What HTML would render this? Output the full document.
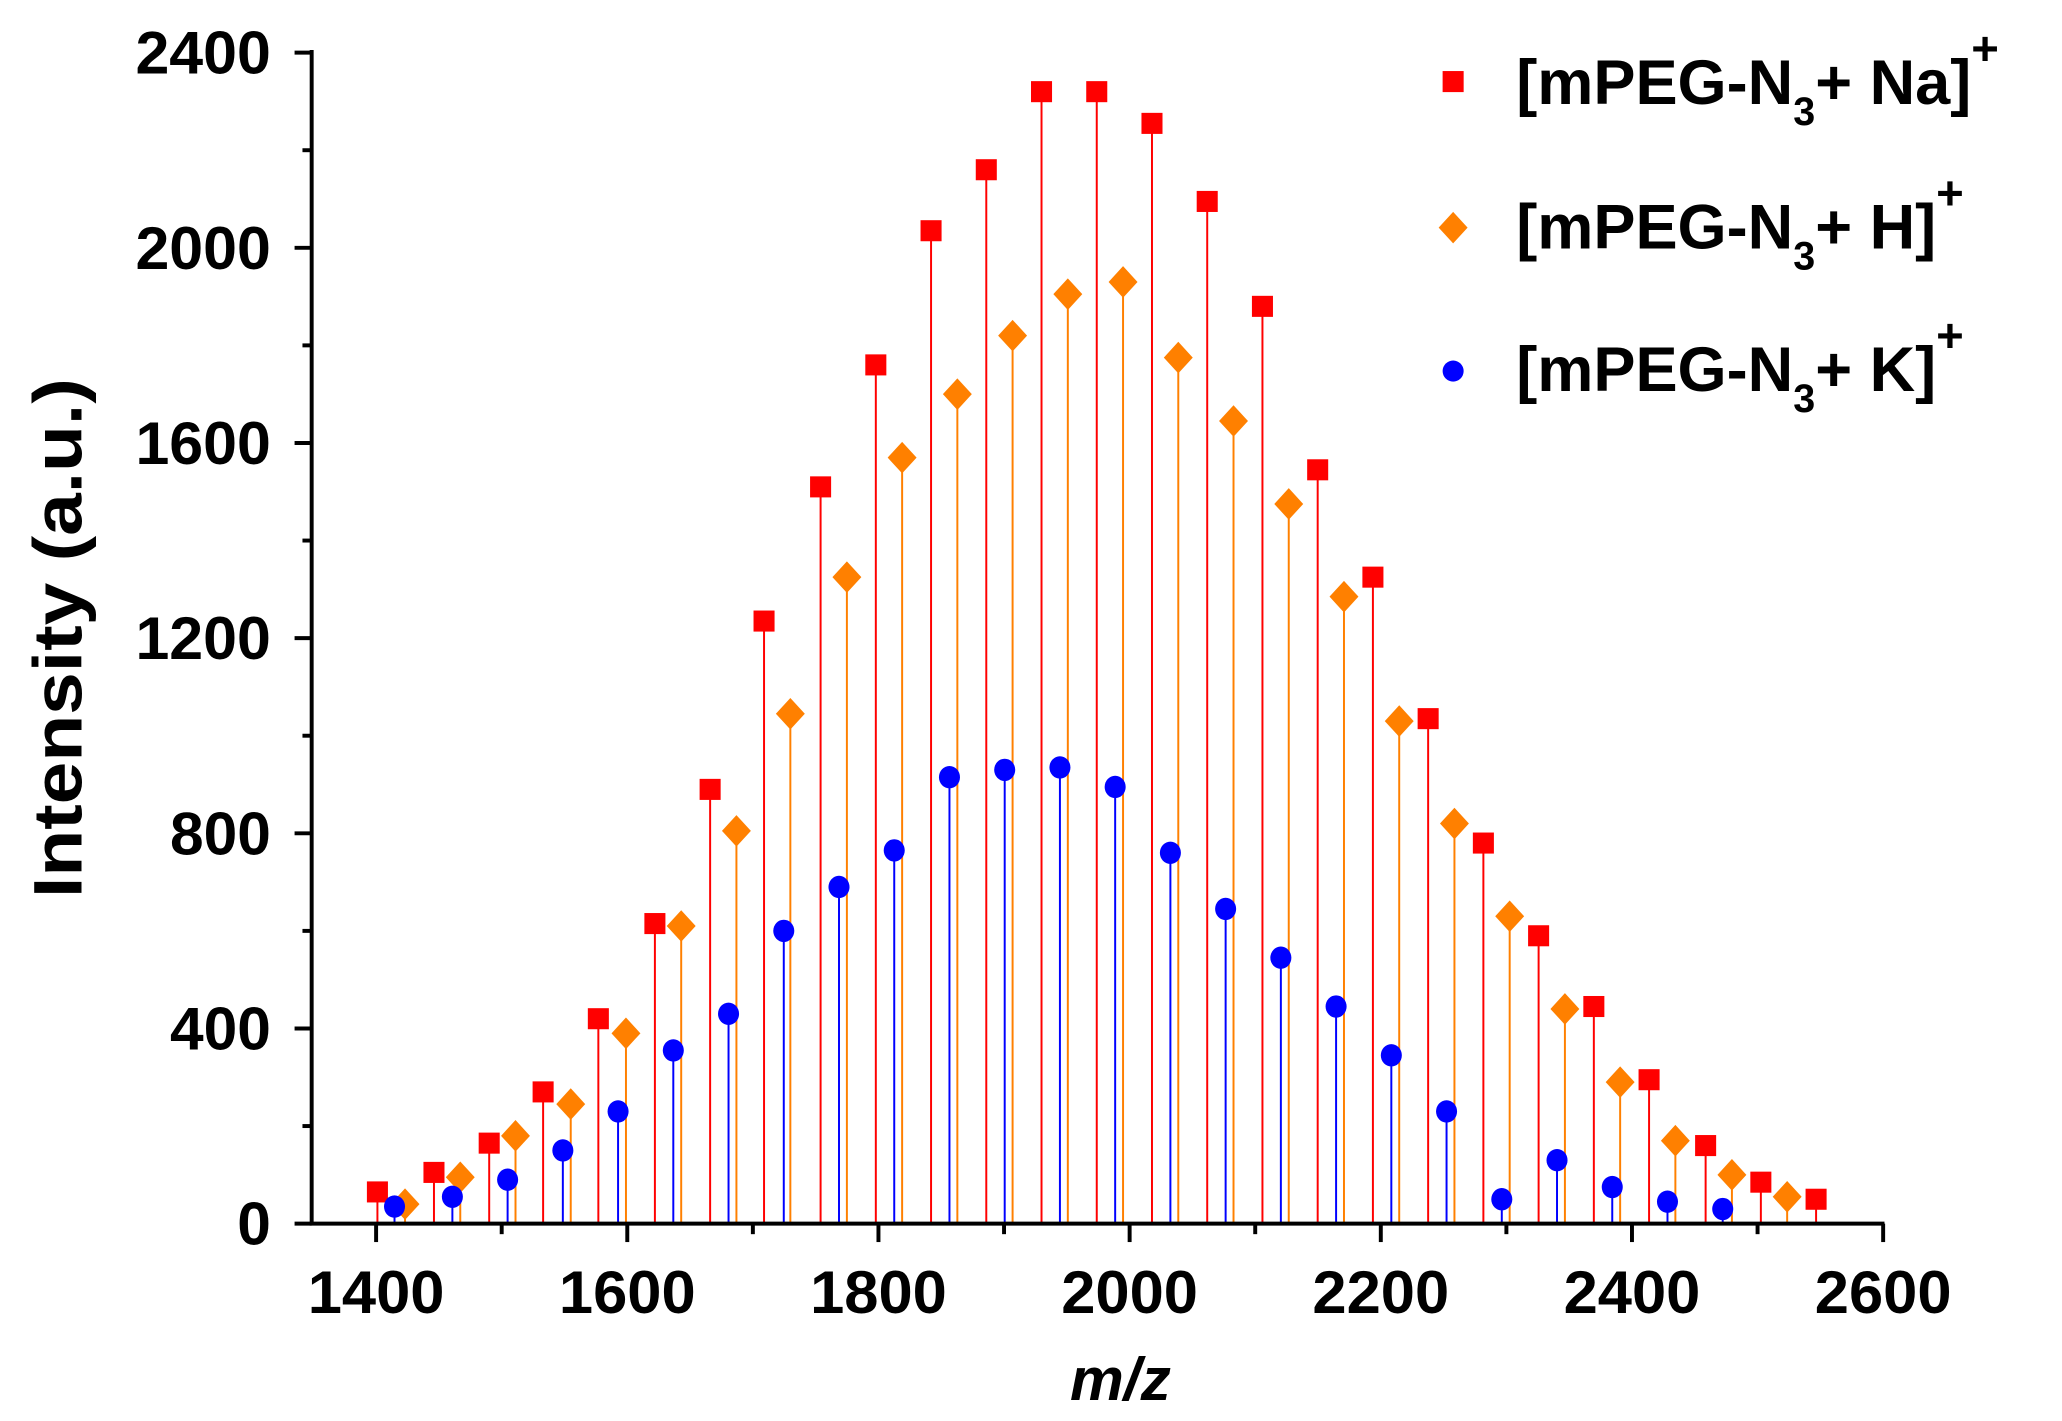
<!DOCTYPE html>
<html><head><meta charset="utf-8"><style>html,body{margin:0;padding:0;background:#fff}svg{display:block}</style></head>
<body>
<svg id="s" width="2062" height="1421" viewBox="0 0 1568 1080" preserveAspectRatio="none" xmlns="http://www.w3.org/2000/svg" font-family="Liberation Sans, sans-serif" font-weight="bold">
<g id="stems"></g>
<g id="marks"></g>
<g stroke="#000" stroke-width="3" fill="none">
<line x1="237" y1="38" x2="237" y2="931"/>
<line x1="235.5" y1="930" x2="1433" y2="930"/>
</g>
<g id="ticks" stroke="#000" stroke-width="3"></g>
<g font-size="46" text-anchor="end" id="ylab"></g>
<g font-size="46" text-anchor="middle" id="xlab"></g>
<text x="852" y="1064" font-size="46" font-style="italic" text-anchor="middle">m/z</text>
<text transform="translate(62,485) rotate(-90)" font-size="52" text-anchor="middle" textLength="395" lengthAdjust="spacingAndGlyphs">Intensity (a.u.)</text>
<rect x="1097" y="54" width="16" height="16" fill="#f00"/>
<polygon points="1105,161 1116,173 1105,185 1094,173" fill="#ff8000"/>
<ellipse cx="1105" cy="282" rx="8" ry="8" fill="#00f"/>
<g font-size="48">
<text x="1153" y="79">[mPEG-N<tspan font-size="30" dy="16">3</tspan><tspan dy="-16">+ Na]</tspan><tspan font-size="36" dy="-30">+</tspan></text>
<text x="1153" y="189">[mPEG-N<tspan font-size="30" dy="16">3</tspan><tspan dy="-16">+ H]</tspan><tspan font-size="36" dy="-30">+</tspan></text>
<text x="1153" y="297">[mPEG-N<tspan font-size="30" dy="16">3</tspan><tspan dy="-16">+ K]</tspan><tspan font-size="36" dy="-30">+</tspan></text>
</g>
</svg>
<script>
const NS="http://www.w3.org/2000/svg";
function el(p,t,a){const e=document.createElementNS(NS,t);for(const k in a)e.setAttribute(k,a[k]);document.getElementById(p).appendChild(e);return e;}
const Y=v=>930-v*(890/2400);
const na=[[287,65],[330,105],[372,165],[413,270],[455,420],[498,615],[540,890],[581,1235],[624,1510],[666,1760],[708,2035],[750,2160],[792,2320],[834,2320],[876,2255],[918,2095],[960,1880],[1002,1545],[1044,1325],[1086,1035],[1128,780],[1170,590],[1212,445],[1254,295],[1297,160],[1339,85],[1381,50]];
const h=[[308,40],[350,95],[392,180],[434,245],[476,390],[518,610],[560,805],[601,1045],[644,1325],[686,1570],[728,1700],[770,1820],[812,1905],[854,1930],[896,1775],[938,1645],[980,1475],[1022,1285],[1064,1030],[1106,820],[1148,630],[1190,440],[1232,290],[1274,170],[1317,100],[1359,55]];
const k=[[300,35],[344,55],[386,90],[428,150],[470,230],[512,355],[554,430],[596,600],[638,690],[680,765],[722,915],[764,930],[806,935],[848,895],[890,760],[932,645],[974,545],[1016,445],[1058,345],[1100,230],[1142,50],[1184,130],[1226,75],[1268,45],[1310,30]];
[[na,"#f00"],[h,"#ff8000"],[k,"#00f"]].forEach(([d,c])=>d.forEach(([x,v])=>el("stems","line",{x1:x,y1:930,x2:x,y2:Y(v),stroke:c,"stroke-width":1.5})));
na.forEach(([x,v])=>el("marks","rect",{x:x-8,y:Y(v)-8,width:16,height:16,fill:"#f00"}));
h.forEach(([x,v])=>{const y=Y(v);el("marks","polygon",{points:`${x},${y-12} ${x+11},${y} ${x},${y+12} ${x-11},${y}`,fill:"#ff8000"})});
k.forEach(([x,v])=>el("marks","ellipse",{cx:x,cy:Y(v),rx:8,ry:8.5,fill:"#00f"}));
for(let v=0;v<=2400;v+=200){const y=Y(v),maj=v%400==0;el("ticks","line",{x1:maj?224:230,y1:y,x2:237,y2:y});if(maj){const a={x:206,y:y+16};if(v>=1000){a.textLength=103;a.lengthAdjust="spacingAndGlyphs";}const t=el("ylab","text",a);t.textContent=v;}}
for(let m=1400;m<=2600;m+=100){const x=286+(m-1400)/200*191,maj=m%200==0;el("ticks","line",{x1:x,y1:930,x2:x,y2:maj?944:938});if(maj){const t=el("xlab","text",{x:x,y:998,textLength:104,lengthAdjust:"spacingAndGlyphs"});t.textContent=m;}}
</script>
</body></html>
